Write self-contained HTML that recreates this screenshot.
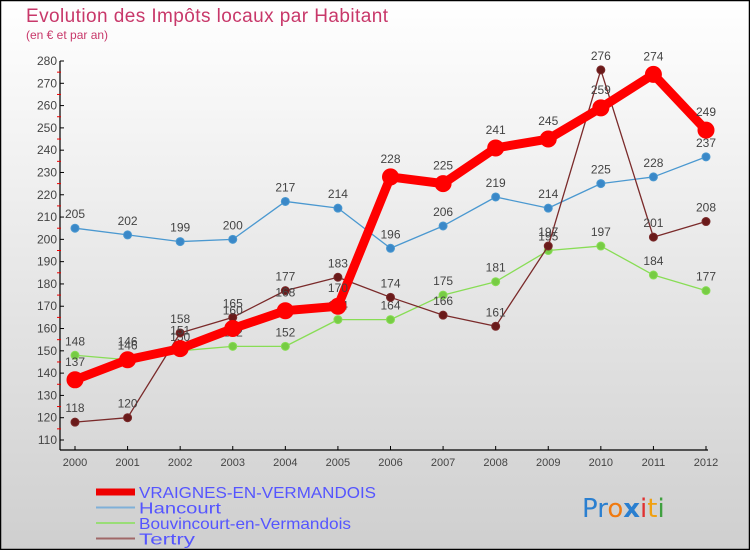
<!DOCTYPE html>
<html><head><meta charset="utf-8"><style>
html,body{margin:0;padding:0}
body{width:750px;height:550px;overflow:hidden;font-family:"Liberation Sans",sans-serif}
svg{display:block}
</style></head><body>
<svg id="chart" width="750" height="550" xmlns="http://www.w3.org/2000/svg">
<defs><linearGradient id="bg" x1="0" y1="0" x2="0" y2="1"><stop offset="0" stop-color="#ffffff"/><stop offset="1" stop-color="#cfcfcf"/></linearGradient></defs>
<rect x="0.5" y="0.5" width="749" height="549" fill="url(#bg)" stroke="#000" stroke-width="1.5"/>
<text x="26" y="22" font-size="19" textLength="362" fill="#c8386a">Evolution des Impôts locaux par Habitant</text>
<text x="26" y="39" font-size="12" fill="#c8386a">(en € et par an)</text>
<g id="axes"></g>
<g id="series"></g>
<g id="legend"></g>
<text x="582" y="517" font-size="26" font-family="'DejaVu Sans',sans-serif"><tspan fill="#2a7fd0">Pr</tspan><tspan fill="#f07a10">o</tspan><tspan fill="#2a7fd0" font-weight="bold">x</tspan><tspan fill="#e03030">i</tspan><tspan fill="#f0a010">t</tspan><tspan fill="#40a040">i</tspan></text>
</svg>
<script>
const years=[2000,2001,2002,2003,2004,2005,2006,2007,2008,2009,2010,2011,2012];
const yTicks=[110,120,130,140,150,160,170,180,190,200,210,220,230,240,250,260,270,280];
const vraignes=[137,146,151,160,168,170,228,225,241,245,259,274,249];
const hancourt=[205,202,199,200,217,214,196,206,219,214,225,228,237];
const bouvincourt=[148,146,150,152,152,164,164,175,181,195,197,184,177];
const tertry=[118,120,158,165,177,183,174,166,161,197,276,201,208];
const NS="http://www.w3.org/2000/svg";
const X=i=>75+i*(706-75)/12;
const Y=v=>440-(v-110)*(440-61)/170;
function mk(tag,attrs,parent,txt){const e=document.createElementNS(NS,tag);for(const k in attrs)e.setAttribute(k,attrs[k]);if(txt!==undefined)e.textContent=txt;parent.appendChild(e);return e;}
const ax=document.getElementById('axes');
let e=mk('line',{x1:60,y1:61,x2:60,y2:450,stroke:'#000','stroke-width':1.2},ax);

e=mk('line',{x1:60,y1:450,x2:708,y2:450,stroke:'#000','stroke-width':1.2},ax);

yTicks.forEach(v=>{
  mk('line',{x1:60,y1:Y(v),x2:64,y2:Y(v),stroke:'#000'},ax);
  if(v<280)mk('line',{x1:57,y1:Y(v+5),x2:61,y2:Y(v+5),stroke:'#e00'},ax);
  const t=mk('text',{x:57,y:Y(v)+4,'text-anchor':'end','font-size':12,fill:'#444'},ax,v);
  
});
years.forEach((y,i)=>{
  mk('line',{x1:X(i),y1:446,x2:X(i),y2:450,stroke:'#000'},ax);
  const t=mk('text',{x:X(i),y:466,'text-anchor':'middle','font-size':11,fill:'#444'},ax,y);
  
});
const sg=document.getElementById('series');
function draw(name,vals,color,w,r,dot,off){
  const g=mk('g',{},sg);
  
  const p=mk('polyline',{points:vals.map((v,i)=>X(i)+','+Y(v)).join(' '),fill:'none',stroke:color,'stroke-width':w,'stroke-linejoin':'round'},g);
  
  vals.forEach((v,i)=>{
    const c=mk('circle',{cx:X(i),cy:Y(v),r:r,fill:dot,stroke:color,'stroke-width':1},g);
    
    const t=mk('text',{x:X(i),y:Y(v)-off,'text-anchor':'middle','font-size':12,fill:'#444'},g,v);
    
  });
}
draw('hancourt',hancourt,'#4a98d0',1.3,4,'#3a88c8',10);
draw('bouvincourt',bouvincourt,'#88dd55',1.3,4,'#77cc44',10);
draw('tertry',tertry,'#7a2a2a',1.3,4,'#6a1a1a',10);
draw('vraignes',vraignes,'#ff0000',9,8,'#ff0000',14);
const lg=document.getElementById('legend');
const items=[['VRAIGNES-EN-VERMANDOIS','#ee0000',7,237],['Hancourt','#7fb0d8',2,82],['Bouvincourt-en-Vermandois','#99dd77',2,212],['Tertry','#a06868',2,56]];
items.forEach((it,k)=>{
  const yy=492+k*15.5;
  const g=mk('g',{},lg);
  
  mk('line',{x1:96,y1:yy,x2:135,y2:yy,stroke:it[1],'stroke-width':it[2]},g);
  mk('text',{x:139,y:yy+6,'font-size':16,fill:'#5555ff',textLength:it[3],lengthAdjust:'spacingAndGlyphs'},g,it[0]);
});
</script>
</body></html>
